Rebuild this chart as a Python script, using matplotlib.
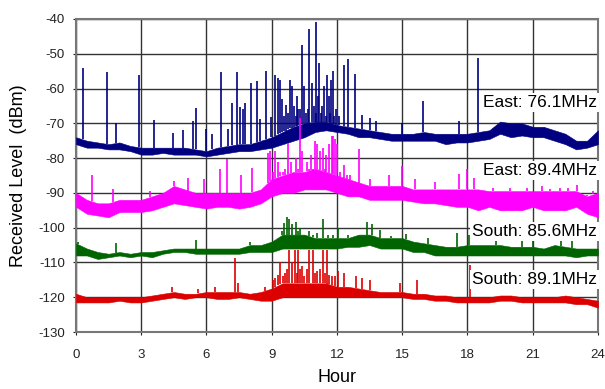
import numpy as np
import matplotlib
matplotlib.use('Agg')
from matplotlib import pyplot as plt

plt.rcParams['font.family'] = ['Liberation Sans', 'DejaVu Sans']
plt.rcParams['axes.unicode_minus'] = False

hours = np.arange(0, 24.5, 0.5)

# East 76.1MHz: upper / lower edge of the noise band (dBm)
east761_hi = [-74, -75, -75.5, -76, -75.5, -76.5, -77, -77, -77, -77, -77, -77.5, -78,
              -77, -76.5, -76, -76, -75, -74, -72.5, -71, -70, -69.5, -69.5, -70.5, -71,
              -71.5, -72, -72.5, -73, -73, -73, -72.5, -73, -73, -73, -73, -72.5, -72,
              -69.5, -70, -70, -71, -71, -72, -73, -75, -75, -72]
east761_lo = [-76, -77, -77, -77.5, -77.5, -78, -79, -79, -78.5, -79, -79, -79, -79.5,
              -79, -78.5, -78, -78, -77.5, -77, -76, -75, -74, -72.5, -72, -72.5, -73,
              -74, -74, -74.5, -75, -75, -75, -75, -75, -76, -75.5, -75.5, -75, -74.5,
              -73, -74, -73.5, -74, -74, -75, -76, -77.5, -77, -76]
east761_spk_h = [0.31, 1.41, 1.86, 2.91, 3.59, 4.44, 4.9, 5.39, 5.5, 5.98, 6.24, 6.67, 6.97,
                 7.19, 7.39, 7.52, 7.66, 7.78, 8.06, 8.31, 8.45, 8.74, 8.98, 9.15, 9.27, 9.38,
                 9.46, 9.55, 9.64, 9.75, 9.84, 9.92, 10.04, 10.1, 10.15, 10.22, 10.3, 10.41,
                 10.5, 10.56, 10.65, 10.73, 10.84, 10.94, 11.02, 11.05, 11.11, 11.19, 11.25,
                 11.3, 11.42, 11.48, 11.53, 11.63, 11.68, 11.72, 11.83, 11.88, 11.94, 12.1,
                 12.34, 12.52, 12.83, 13.15, 13.5, 13.8, 15.0, 15.94, 17.6, 18.47]
east761_spk_v = [-54, -55.2, -69.8, -56.1, -69.1, -72.9, -72, -69.2, -65.7, -71.7, -73, -55.1, -71.7,
                 -64.1, -55.1, -65.2, -66, -64.1, -58.5, -57.9, -68.8, -55, -68.3, -56, -56.9, -57.4,
                 -63.1, -68, -64.6, -67, -57.4, -59.3, -65.1, -68, -62.2, -66, -66, -47.4,
                 -59.3, -67, -66, -43, -58.4, -65.1, -40.9, -67, -62.2, -52.6, -67,
                 -65.1, -59.3, -68, -56, -62.2, -67, -57.4, -55, -68, -66, -68,
                 -53.1, -51.5, -55.8, -67.5, -68.5, -69.3, -70, -63.6, -69.4, -51.2]

# East 89.4MHz
east894_hi = [-90, -92, -93, -93, -92, -92, -92, -91, -90, -88, -89, -90, -90, -90, -90,
              -90, -90, -89, -86, -85, -84, -84, -83, -84, -85, -86, -87, -88, -88, -88,
              -88, -89, -89, -89, -89, -89, -89, -89, -89.5, -89.5, -89.5, -89.5, -89.5,
              -89.5, -89.5, -89.5, -89.5, -91, -90]
east894_lo = [-94, -96, -96.5, -97, -95.5, -95.5, -95.5, -95, -94, -93, -93.5, -94, -94.5,
              -94, -94, -94.5, -94, -93, -91, -90, -90, -89, -89, -89, -90, -91, -91, -92,
              -92, -92, -92, -92.5, -93, -93, -93.5, -94, -94, -95, -94, -95, -95, -95,
              -94, -95, -95, -95, -94, -96, -97]
east894_spk_h = [0.72, 1.7, 3.4, 4.5, 5.16, 5.9, 6.6, 6.93, 7.6, 8.08, 8.83, 8.92, 9.05, 9.15,
                 9.3, 9.4, 9.5, 9.62, 9.76, 9.9, 10.0, 10.1, 10.2, 10.3, 10.38, 10.48, 10.6,
                 10.7, 10.8, 10.9, 10.99, 11.1, 11.2, 11.35, 11.45, 11.5, 11.65, 11.75, 11.83,
                 11.9, 12.0, 12.15, 12.3, 12.45, 12.6, 13.01, 13.5, 14.4, 14.98, 15.6, 16.5,
                 17.6, 18.0, 18.3, 19.19, 19.95, 20.41, 20.72, 21.41, 21.79, 22.25, 22.64,
                 23.02, 23.48, 23.78]
east894_spk_v = [-85, -89, -89.5, -86.5, -85.7, -86, -83, -80.2, -85, -82.8, -78.5, -78, -84, -78,
                 -81, -84, -84, -83, -75.6, -81, -84, -80, -83, -68.4, -78, -84, -81,
                 -83, -79, -84, -75.1, -76, -78, -77, -83, -79, -76, -73.7, -73.7,
                 -74.6, -76, -84, -82, -85, -85, -77.3, -86, -85, -82.3, -86, -87,
                 -84.6, -83, -85.7, -88.5, -88.5, -89.5, -88.5, -88.1, -89, -88.5, -88.5,
                 -87.6, -90.5, -89.5]

# South 85.6MHz
south856_hi = [-104.5, -106, -107, -107.5, -107, -107.5, -107, -107, -106.5, -106, -106, -106,
               -106, -106, -106, -106, -105, -105, -104, -102, -102, -102, -103, -103, -103,
               -103, -102, -102, -103, -103, -103, -104, -104.5, -105, -105.5, -105.5, -105,
               -105, -105, -105, -105.5, -105.5, -105.5, -106, -105, -105.5, -106, -106, -106]
south856_lo = [-108, -108, -109, -108.5, -108, -108.5, -108, -108.5, -107.5, -107, -107, -107.5,
               -107.5, -107.5, -107.5, -107.5, -107, -107, -107, -106, -106, -106, -106, -106,
               -106, -105.5, -105.5, -105, -106, -106, -106, -107, -107, -108, -108, -108, -108,
               -108, -108, -108, -108, -108, -108, -108, -108, -108, -108.5, -108, -108]
south856_spk_h = [0.1, 1.85, 5.5, 8.0, 9.45, 9.55, 9.7, 9.81, 9.95, 10.1, 10.2, 10.3, 10.5,
                  10.7, 10.9, 11.1, 11.37, 11.6, 11.8, 12.06, 12.5, 13.0, 13.36, 13.6, 13.98,
                  14.5, 15.16, 16.2, 17.5, 18.08, 19.3, 20.5, 21.0, 22.3, 22.8]
south856_spk_v = [-104, -104.5, -103.5, -104, -101, -98.7, -97, -97.4, -99, -98.3, -101, -100, -102,
                  -101, -102, -101.5, -97.4, -102, -102, -100, -102, -102, -98.3, -99, -100.6,
                  -102.5, -101.7, -103, -101.5, -102, -103, -103.5, -103, -102.5, -102.5]

# South 89.1MHz
south891_hi = [-119, -120, -120, -120, -120, -120, -120, -119.5, -119, -118.5, -119, -119,
               -118.5, -118.5, -118.5, -118.5, -119, -118.5, -117.5, -116, -116, -116, -116,
               -116, -117, -117, -117.5, -118, -118.5, -118.5, -118.5, -119, -119, -119.5,
               -119.5, -120, -120, -120, -120, -119.5, -119.5, -120, -120, -120, -120, -119.5,
               -120, -120.5, -121]
south891_lo = [-121.5, -121.5, -121.5, -121.5, -121, -121.5, -121.5, -121, -120.5, -120, -120.5,
               -120, -120, -120.5, -120.5, -120, -120.5, -121, -121, -120, -120, -120, -120,
               -120, -120, -120, -120, -120, -120, -120, -120, -120.5, -120.5, -121, -121,
               -121.5, -121.5, -121.5, -121.5, -121, -121, -121.5, -121.5, -121.5, -121.5,
               -121.5, -122, -122, -123]
south891_spk_h = [4.4, 5.6, 6.4, 7.3, 7.45, 8.7, 9.05, 9.17, 9.3, 9.4, 9.5, 9.6, 9.7, 9.81, 9.95,
                  10.07, 10.15, 10.2, 10.3, 10.4, 10.5, 10.6, 10.73, 10.88, 11.0, 11.1, 11.2,
                  11.37, 11.45, 11.56, 11.65, 11.75, 11.9, 12.06, 12.32, 12.88, 13.14, 13.5,
                  14.9, 15.66, 18.1]
south891_spk_v = [-117, -117.5, -117, -108.7, -116, -117, -115, -114.5, -113.5, -110, -114, -113,
                  -112, -106.3, -110, -106.3, -113, -106.3, -112, -111, -114, -112, -106.3,
                  -106.3, -113, -112.5, -112, -106.3, -113, -106.3, -113.5, -114, -114, -112.5,
                  -113, -114, -114.5, -115, -116, -115, -110.6]

series = [
    ('East: 76.1MHz', '#000080', east761_hi, east761_lo, east761_spk_h, east761_spk_v, -64.1),
    ('East: 89.4MHz', '#ff00ff', east894_hi, east894_lo, east894_spk_h, east894_spk_v, -83.5),
    ('South: 85.6MHz', '#006400', south856_hi, south856_lo, south856_spk_h, south856_spk_v, -101),
    ('South: 89.1MHz', '#dd0000', south891_hi, south891_lo, south891_spk_h, south891_spk_v, -114.9),
]

fig = plt.figure(figsize=(6.05, 3.89), dpi=100)
ax = fig.add_axes([0.1256, 0.1465, 0.8628, 0.8047])

for name, col, hi, lo, sh, sv, ty in series:
    ax.fill_between(hours, lo, hi, color=col, lw=0.4, zorder=3)
    base = np.interp(sh, hours, hi)
    ax.vlines(sh, base, sv, color=col, lw=1.2, zorder=3)
    ax.text(23.95, ty, name, ha='right', va='center', fontsize=12.5, zorder=5,
            bbox=dict(facecolor='white', edgecolor='none', pad=1.5))

ax.set_xlim(0, 24)
ax.set_ylim(-130, -40)
ax.set_xticks(range(0, 25, 3))
ax.set_yticks(range(-130, -39, 10))
ax.grid(True, color='#333333', lw=1.0, zorder=1)
ax.set_axisbelow(True)
for s in ax.spines.values():
    s.set_color('#777777')
    s.set_linewidth(1.5)
ax.tick_params(length=2, labelsize=9.5, colors='#222222', pad=6)
ax.tick_params(axis='x', pad=10)
ax.set_xlabel('Hour', fontsize=13, labelpad=6)
ax.set_ylabel('Received Level  (dBm)', fontsize=13, labelpad=8)

fig.savefig('out.png', dpi=100)
